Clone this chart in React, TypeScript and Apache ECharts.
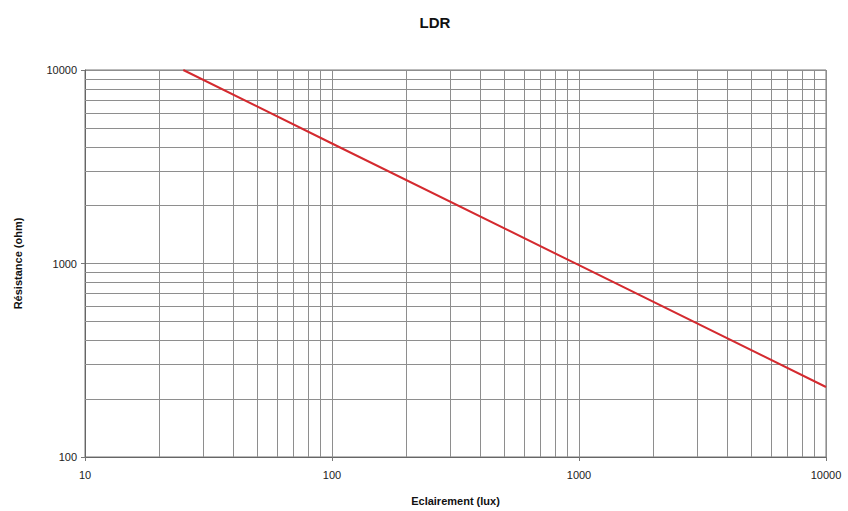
import React, { useEffect, useRef } from "react";
import * as echarts from "echarts";

const lux = [25, 100, 1000, 10000];
const resistance = [10000, 4170, 980, 230];
const xMinorGrid = [20, 30, 40, 50, 60, 70, 80, 90, 200, 300, 400, 500, 600, 700, 800, 900, 2000, 3000, 4000, 5000, 6000, 7000, 8000, 9000];
const yMinorGrid = [200, 300, 400, 500, 600, 700, 800, 900, 2000, 3000, 4000, 5000, 6000, 7000, 8000, 9000];

const FONT = "'Liberation Sans', Arial, sans-serif";

export default function App() {
  const ref = useRef<HTMLDivElement>(null);
  useEffect(() => {
    if (!ref.current) return;
    const chart = echarts.init(ref.current, undefined, { renderer: "svg" });
    const gridColor = "#8e8e8e";
    chart.setOption({
      animation: false,
      backgroundColor: "#ffffff",
      textStyle: { fontFamily: FONT },
      title: {
        text: "LDR",
        left: 430,
        top: 10,
        textAlign: "center",
        textStyle: { fontSize: 15, fontWeight: "bold", color: "#111", fontFamily: FONT },
      },
      grid: { left: 85, right: 22, top: 70, bottom: 54, show: true, borderColor: "#777", borderWidth: 1 },
      xAxis: {
        type: "log",
        logBase: 10,
        min: 10,
        max: 10000,
        name: "Eclairement (lux)",
        nameLocation: "middle",
        nameGap: 38,
        nameTextStyle: { fontSize: 11, fontWeight: "bold", color: "#111", fontFamily: FONT },
        axisLine: { show: true, lineStyle: { color: "#666" } },
        axisTick: { show: true, length: 4, lineStyle: { color: "#777" } },
        axisLabel: { fontSize: 11, color: "#222", margin: 12, formatter: (v: number) => String(Math.round(v)) },
        splitLine: { show: true, lineStyle: { color: gridColor, width: 1 } },
        minorTick: { show: false },
      },
      yAxis: {
        type: "log",
        logBase: 10,
        min: 100,
        max: 10000,
        name: "Résistance (ohm)",
        nameLocation: "middle",
        nameGap: 62,
        nameRotate: 90,
        nameTextStyle: { fontSize: 11, fontWeight: "bold", color: "#111", fontFamily: FONT },
        axisLine: { show: true, lineStyle: { color: "#666" } },
        axisTick: { show: true, length: 4, lineStyle: { color: "#777" } },
        axisLabel: { fontSize: 11, color: "#222", margin: 8, formatter: (v: number) => String(Math.round(v)) },
        splitLine: { show: true, lineStyle: { color: gridColor, width: 1 } },
      },
      series: [
        {
          type: "line",
          data: lux.map((x, i) => [x, resistance[i]]),
          showSymbol: false,
          symbol: "none",
          lineStyle: { color: "#d42a2f", width: 2 },
          z: 5,
          markLine: {
            silent: true,
            symbol: "none",
            label: { show: false },
            lineStyle: { color: gridColor, width: 1, type: "solid" },
            data: [
              ...xMinorGrid.map((v) => ({ xAxis: v })),
              ...yMinorGrid.map((v) => ({ yAxis: v })),
            ],
            z: 1,
          },
        },
      ],
    });
    return () => chart.dispose();
  }, []);
  return <div ref={ref} style={{ position: "fixed", left: 0, top: 0, width: 848, height: 511 }} />;
}
